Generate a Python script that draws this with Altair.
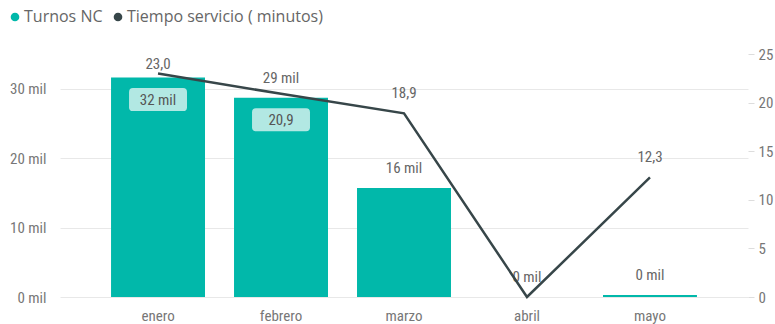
import altair as alt
import pandas as pd

months = ["enero", "febrero", "marzo", "abril", "mayo"]
turnos = [31600, 28700, 15700, 0, 300]
tiempo = [23.0, 20.9, 18.9, 0.0, 12.3]
series_names = ["Turnos NC", "Tiempo servicio ( minutos)"]
series_colors = ["#01B8AA", "#374649"]
left_ticks = [0, 10000, 20000, 30000]
right_ticks = [0, 5, 10, 15, 20, 25]

df = pd.DataFrame({"mes": months, "turnos": turnos, "tiempo": tiempo})
legend_df = pd.DataFrame({"serie": series_names})

LBL_FONT = "Liberation Sans Narrow, Roboto Condensed, Roboto, sans-serif"
LEG_FONT = "Open Sans, Noto Sans, sans-serif"

base = alt.Chart(df).transform_calculate(
    bar_lbl="round(datum.turnos/1000) + ' mil'",
    line_lbl="replace(format(datum.tiempo, '.1f'), '.', ',')",
    box_lbl="datum.mes == 'enero' ? round(datum.turnos/1000) + ' mil' : replace(format(datum.tiempo, '.1f'), '.', ',')",
)

x_enc = alt.X(
    "mes:N", sort=months,
    scale=alt.Scale(paddingInner=0.236, paddingOuter=0.415),
    axis=alt.Axis(title=None, labelAngle=0, ticks=False, domain=False,
                  labelPadding=11, labelFontSize=15, labelColor="#777777",
                  labelFont=LBL_FONT),
)

y_left = alt.Y(
    "turnos:Q", scale=alt.Scale(domain=[0, 35000], nice=False),
    axis=alt.Axis(title=None, values=left_ticks, labelExpr="datum.value/1000 + ' mil'",
                  domain=False, ticks=False, labelPadding=14, labelFontSize=15,
                  labelColor="#777777", labelFont=LBL_FONT, gridColor="#e8e8e8",
                  orient="left"),
)

y_right = alt.Y(
    "tiempo:Q", scale=alt.Scale(domain=[0, 25], nice=False),
    axis=alt.Axis(title=None, values=right_ticks, grid=False, domain=False,
                  ticks=True, tickColor="#dddddd", tickSize=6, labelPadding=4,
                  labelFontSize=15, labelColor="#777777", labelFont=LBL_FONT,
                  orient="right"),
)

bars = base.mark_bar(color=series_colors[0]).encode(x=x_enc, y=y_left)

bar_labels = base.mark_text(
    dy=-20, baseline="middle", fontSize=15, color="#666666", font=LBL_FONT
).encode(x=x_enc, y=y_left, text="bar_lbl:N").transform_filter(
    alt.FieldOneOfPredicate(field="mes", oneOf=["febrero", "marzo", "abril", "mayo"])
)

box_path = ("M-1.09,-0.5 L1.09,-0.5 Q1.26,-0.5 1.26,-0.33 L1.26,0.33 Q1.26,0.5 1.09,0.5 "
            "L-1.09,0.5 Q-1.26,0.5 -1.26,0.33 L-1.26,-0.33 Q-1.26,-0.5 -1.09,-0.5 Z")

boxes = base.mark_point(
    shape=box_path, size=2116, filled=True, color="#b2e8e3", opacity=1,
    strokeWidth=0, yOffset=22
).encode(x=x_enc, y=y_left).transform_filter(
    alt.FieldOneOfPredicate(field="mes", oneOf=["enero", "febrero"])
)

box_text = base.mark_text(
    dy=22, baseline="middle", fontSize=15, color="#555555", font=LBL_FONT
).encode(x=x_enc, y=y_left, text="box_lbl:N").transform_filter(
    alt.FieldOneOfPredicate(field="mes", oneOf=["enero", "febrero"])
)

legend_pts = alt.Chart(legend_df).mark_point(filled=True, size=75, opacity=1).encode(
    x=alt.value(-2000), y=alt.value(-2000),
    color=alt.Color(
        "serie:N",
        scale=alt.Scale(domain=series_names, range=series_colors),
        legend=alt.Legend(
            title=None, orient="none", legendX=-53, legendY=-45, direction="horizontal",
            symbolType="circle", symbolSize=75, symbolStrokeWidth=0,
            labelFont=LEG_FONT, labelFontSize=16, labelColor="#666666",
            columnPadding=7, labelOffset=1, labelLimit=400,
        ),
    ),
)

left = alt.layer(bars, bar_labels, boxes, box_text, legend_pts)

line = base.mark_line(color=series_colors[1], strokeWidth=2.5).encode(x=x_enc, y=y_right)

line_labels = base.mark_text(
    dy=-20, baseline="middle", fontSize=15, color="#666666", font=LBL_FONT
).encode(x=x_enc, y=y_right, text="line_lbl:N").transform_filter(
    alt.FieldOneOfPredicate(field="mes", oneOf=["marzo", "mayo"])
)

line_label_top = base.mark_text(
    dy=-9, baseline="middle", fontSize=15, color="#666666", font=LBL_FONT
).encode(x=x_enc, y=y_right, text="line_lbl:N").transform_filter(
    alt.FieldEqualPredicate(field="mes", equal="enero")
)

right = alt.layer(line, line_labels, line_label_top)

chart = alt.layer(left, right).resolve_scale(y="independent").properties(
    width=688, height=243,
    padding={"left": 60, "top": 54, "right": 27, "bottom": 27},
    autosize="none",
).configure_view(stroke=None)

chart.save("out.html", embed_options={"renderer": "svg", "actions": False})
